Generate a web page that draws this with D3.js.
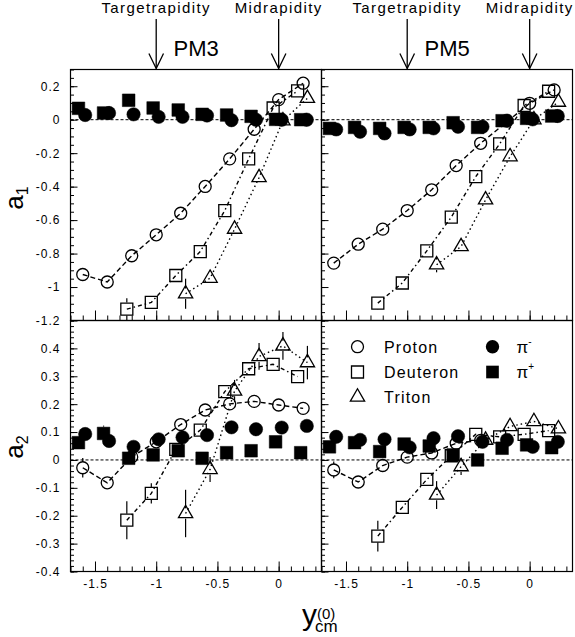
<!DOCTYPE html>
<html>
<head>
<meta charset="utf-8">
<script src="https://cdn.jsdelivr.net/npm/d3@7"></script>
<style>
body { margin: 0; background: #fff; }
text { font-family: "Liberation Sans", Arial, Helvetica, sans-serif; fill: #000; }
</style>
</head>
<body>
<div id="vis"></div>
<script>
// Frame and panel geometry
const FRAME_WIDTH = 575;
const FRAME_HEIGHT = 637;
const PANEL_W = 251;
const PANEL_H = 251;
const LEFT = 70.5;
const TOP = 69.5;

// Tick values
const X_MAJOR = [-1.5, -1, -0.5, 0];
const A1_MAJOR = [-1.2, -1, -0.8, -0.6, -0.4, -0.2, 0, 0.2];
const A2_MAJOR = [-0.4, -0.3, -0.2, -0.1, 0, 0.1, 0.2, 0.3, 0.4];

// Rapidity markers on top of the panels
const ARROW_X = [-1, 0];
const ARROW_TEXT = ["Targetrapidity", "Midrapidity"];
const PANEL_TITLES = ["PM3", "PM5"];

// Data: [y_cm, value, error]
const PM3_A1_PROTON = [[-1.6,-0.925],[-1.4,-0.97],[-1.2,-0.813],[-1.0,-0.688],[-0.8,-0.559],[-0.6,-0.399],[-0.4,-0.234],[-0.2,-0.057],[0.0,0.12],[0.2,0.218]];
const PM3_A1_DEUTERON = [[-1.24,-1.132,0.065],[-1.04,-1.092],[-0.84,-0.931],[-0.64,-0.788],[-0.44,-0.543],[-0.245,-0.234],[-0.045,0.07],[0.155,0.172]];
const PM3_A1_TRITON = [[-0.76,-1.04,0.09],[-0.56,-0.947],[-0.36,-0.654],[-0.16,-0.346],[0.035,-0.006],[0.235,0.128]];
const PM3_A1_PIMINUS = [[-1.58,0.028],[-1.385,0.04],[-1.185,0.032],[-0.98,0.017],[-0.785,0.017],[-0.585,0.025],[-0.385,-0.003],[-0.185,0.0],[0.025,0.0],[0.23,0.0]];
const PM3_A1_PIPLUS = [[-1.635,0.068],[-1.43,0.04],[-1.225,0.116],[-1.025,0.07],[-0.82,0.058],[-0.625,0.032],[-0.425,0.028],[-0.225,0.02],[-0.025,0.002],[0.18,0.0]];

const PM5_A1_PROTON = [[-1.6,-0.857],[-1.4,-0.744],[-1.2,-0.654],[-1.0,-0.543],[-0.8,-0.419],[-0.6,-0.274],[-0.4,-0.141],[0.0,0.098],[0.2,0.178]];
const PM5_A1_DEUTERON = [[-1.24,-1.096,0.04],[-1.04,-0.976],[-0.84,-0.784],[-0.64,-0.582],[-0.44,-0.34],[-0.245,-0.145],[-0.045,0.085],[0.155,0.17]];
const PM5_A1_TRITON = [[-0.76,-0.867,0.045],[-0.56,-0.758],[-0.36,-0.479],[-0.16,-0.221],[0.035,0.0],[0.235,0.105]];
const PM5_A1_PIMINUS = [[-1.58,-0.058],[-1.385,-0.072],[-1.185,-0.082],[-0.98,-0.058],[-0.785,-0.052],[-0.585,-0.042],[-0.385,-0.042],[-0.185,-0.006],[0.025,0.002],[0.23,0.022]];
const PM5_A1_PIPLUS = [[-1.635,-0.052],[-1.43,-0.046],[-1.225,-0.052],[-1.025,-0.046],[-0.82,-0.046],[-0.625,-0.018],[-0.425,-0.046],[-0.225,-0.006],[-0.025,0.008],[0.18,0.022]];

const PM3_A2_PROTON = [[-1.6,-0.028,0.035],[-1.4,-0.082],[-1.2,0.011],[-1.0,0.065],[-0.8,0.127],[-0.6,0.179],[-0.4,0.201],[-0.2,0.21],[0.0,0.197],[0.2,0.185]];
const PM3_A2_DEUTERON = [[-1.24,-0.216,0.068],[-1.04,-0.12,0.036],[-0.84,0.038],[-0.64,0.107],[-0.44,0.245],[-0.245,0.327],[-0.045,0.343],[0.155,0.299]];
const PM3_A2_TRITON = [[-0.76,-0.192,0.085],[-0.56,-0.034,0.045],[-0.36,0.247,0.04],[-0.16,0.371,0.048],[0.035,0.409,0.05],[0.235,0.349,0.06]];
const PM3_A2_PIMINUS = [[-1.58,0.093],[-1.385,0.068],[-1.185,0.047],[-0.98,0.074],[-0.785,0.081],[-0.585,0.089],[-0.385,0.117],[-0.185,0.11],[0.025,0.116],[0.23,0.122]];
const PM3_A2_PIPLUS = [[-1.635,0.062],[-1.43,0.095,0.028],[-1.225,0.006],[-1.025,0.018],[-0.82,0.033],[-0.625,0.006],[-0.425,0.026],[-0.225,0.033],[-0.025,0.065],[0.18,0.026]];

const PM5_A2_PROTON = [[-1.6,-0.036,0.03],[-1.4,-0.079],[-1.2,-0.02],[-1.0,0.01],[-0.8,0.025],[-0.6,0.06],[-0.4,0.07]];
const PM5_A2_DEUTERON = [[-1.24,-0.273,0.055],[-1.04,-0.17],[-0.84,-0.07],[-0.64,0.015],[-0.44,0.092],[-0.245,0.083],[-0.045,0.092],[0.155,0.105]];
const PM5_A2_TRITON = [[-0.76,-0.126,0.05],[-0.56,-0.024,0.03],[-0.36,0.071],[-0.16,0.12],[0.035,0.138],[0.235,0.112]];
const PM5_A2_PIMINUS = [[-1.58,0.083],[-1.385,0.072],[-1.185,0.074],[-0.98,0.045],[-0.785,0.078],[-0.585,0.085],[-0.385,0.065],[-0.185,0.072],[0.025,0.047],[0.23,0.065]];
const PM5_A2_PIPLUS = [[-1.635,0.047],[-1.43,0.062],[-1.225,0.03],[-1.025,0.057],[-0.82,0.05],[-0.625,0.018],[-0.425,0.0],[-0.225,0.042],[-0.025,0.054],[0.18,0.044]];

// Legend entries
const LEGEND_LEFT = ["Proton", "Deuteron", "Triton"];
const LEGEND_RIGHT = ["-", "+"];

// Scales
const X_SCALE = d3.scaleLinear().domain([-1.7, 0.35]).range([0, PANEL_W]);
const Y_A1 = d3.scaleLinear().domain([-1.2, 0.3]).range([PANEL_H, 0]);
const Y_A2 = d3.scaleLinear().domain([-0.4, 0.5]).range([PANEL_H, 0]);

// marker styles
const SYM = {
    proton:   {type: d3.symbolCircle,   size: 113, filled: false, dash: "5,3"},
    deuteron: {type: d3.symbolSquare,   size: 144, filled: false, dash: "4,3,1.5,3"},
    triton:   {type: d3.symbolTriangle, size: 88,  filled: false, dash: "1.5,3"},
    piMinus:  {type: d3.symbolCircle,   size: 140, filled: true},
    piPlus:   {type: d3.symbolSquare,   size: 160, filled: true}
};
const ORDER = ["proton", "deuteron", "triton", "piMinus", "piPlus"];

const PANELS = [
    {col: 0, row: 0, y: Y_A1, major: A1_MAJOR, minorStep: 30,
     series: {proton: PM3_A1_PROTON, deuteron: PM3_A1_DEUTERON, triton: PM3_A1_TRITON, piMinus: PM3_A1_PIMINUS, piPlus: PM3_A1_PIPLUS}},
    {col: 1, row: 0, y: Y_A1, major: A1_MAJOR, minorStep: 30,
     series: {proton: PM5_A1_PROTON, deuteron: PM5_A1_DEUTERON, triton: PM5_A1_TRITON, piMinus: PM5_A1_PIMINUS, piPlus: PM5_A1_PIPLUS}},
    {col: 0, row: 1, y: Y_A2, major: A2_MAJOR, minorStep: 45,
     series: {proton: PM3_A2_PROTON, deuteron: PM3_A2_DEUTERON, triton: PM3_A2_TRITON, piMinus: PM3_A2_PIMINUS, piPlus: PM3_A2_PIPLUS}},
    {col: 1, row: 1, y: Y_A2, major: A2_MAJOR, minorStep: 45,
     series: {proton: PM5_A2_PROTON, deuteron: PM5_A2_DEUTERON, triton: PM5_A2_TRITON, piMinus: PM5_A2_PIMINUS, piPlus: PM5_A2_PIPLUS}}
];

const FMT = (d) => String(+d.toFixed(2));
const FONT = "'Liberation Sans', Arial, Helvetica, sans-serif";

const FRAME = d3.select("#vis")
    .append("svg")
    .attr("width", FRAME_WIDTH)
    .attr("height", FRAME_HEIGHT);

function drawPanel(p) {
    const g = FRAME.append("g")
        .attr("transform", "translate(" + (LEFT + p.col * PANEL_W) + "," + (TOP + p.row * PANEL_H) + ")");
    const Y = p.y;

    // dashed zero line
    g.append("line")
        .attr("x1", 0).attr("x2", PANEL_W)
        .attr("y1", Y(0)).attr("y2", Y(0))
        .attr("stroke", "#000").attr("stroke-width", 1)
        .attr("stroke-dasharray", "3,2");

    // left axis ticks (inside the frame)
    g.append("g")
        .call(d3.axisLeft(Y).tickValues(Y.ticks(p.minorStep)).tickSize(-3.5).tickFormat(""))
        .call(a => a.select(".domain").remove());
    g.append("g")
        .call(d3.axisLeft(Y).tickValues(p.major).tickSize(-7).tickPadding(10)
            .tickFormat(p.col === 0 ? FMT : ""))
        .call(a => a.select(".domain").remove())
        .attr("font-family", FONT).attr("font-size", 12)
        .selectAll("text").attr("letter-spacing", 1).attr("fill", "#000");

    // bottom axis ticks (inside the frame)
    const xb = g.append("g").attr("transform", "translate(0," + PANEL_H + ")");
    xb.append("g")
        .call(d3.axisBottom(X_SCALE).tickValues(X_SCALE.ticks(20)).tickSize(-5).tickFormat(""))
        .call(a => a.select(".domain").remove());
    xb.append("g")
        .call(d3.axisBottom(X_SCALE).tickValues(X_MAJOR).tickSize(-10).tickPadding(8)
            .tickFormat(p.row === 1 ? FMT : ""))
        .call(a => a.select(".domain").remove())
        .attr("font-family", FONT).attr("font-size", 12)
        .selectAll("text").attr("letter-spacing", 1).attr("fill", "#000");

    // connecting lines for the fragments
    const line = d3.line().x(d => X_SCALE(d[0])).y(d => Y(d[1]));
    ["proton", "deuteron", "triton"].forEach(k => {
        g.append("path")
            .datum(p.series[k])
            .attr("d", line)
            .attr("fill", "none")
            .attr("stroke", "#000")
            .attr("stroke-width", 1.4)
            .attr("stroke-dasharray", SYM[k].dash);
    });

    // error bars and markers
    ORDER.forEach(k => {
        const s = SYM[k];
        const pts = p.series[k];
        const gap = Math.sqrt(s.size) / 2 + 0.5;
        pts.filter(d => d[2] && d[2] * Math.abs(Y(0) - Y(1)) > gap).forEach(d => {
            const cy = Y(d[1]), cx = X_SCALE(d[0]);
            g.append("line").attr("x1", cx).attr("x2", cx)
                .attr("y1", Y(d[1] + d[2])).attr("y2", cy - gap)
                .attr("stroke", "#000").attr("stroke-width", 1.2);
            g.append("line").attr("x1", cx).attr("x2", cx)
                .attr("y1", cy + gap).attr("y2", Y(d[1] - d[2]))
                .attr("stroke", "#000").attr("stroke-width", 1.2);
        });
        g.selectAll(null)
            .data(pts)
            .enter()
            .append("path")
            .attr("d", d3.symbol(s.type, s.size))
            .attr("transform", d => "translate(" + X_SCALE(d[0]) + "," + Y(d[1]) + ")")
            .attr("fill", s.filled ? "#000" : "none")
            .attr("stroke", "#000")
            .attr("stroke-width", s.filled ? 0.5 : 1.3);
    });

    // frame
    g.append("rect")
        .attr("width", PANEL_W).attr("height", PANEL_H)
        .attr("fill", "none").attr("stroke", "#000").attr("stroke-width", 1.2);
}

PANELS.forEach(drawPanel);

// arrows and rapidity labels above the top panels
[0, 1].forEach(col => {
    const x0 = LEFT + col * PANEL_W;
    ARROW_X.forEach((v, i) => {
        const ax = x0 + X_SCALE(v);
        FRAME.append("line")
            .attr("x1", ax).attr("x2", ax).attr("y1", 19).attr("y2", TOP - 1)
            .attr("stroke", "#000").attr("stroke-width", 1.3);
        FRAME.append("path")
            .attr("d", "M" + (ax - 7.3) + ",53.5L" + ax + "," + (TOP - 1) + "L" + (ax + 7.3) + ",53.5")
            .attr("fill", "none").attr("stroke", "#000").attr("stroke-width", 1.3);
        FRAME.append("text")
            .attr("x", ax).attr("y", 12.5)
            .attr("text-anchor", "middle")
            .attr("font-size", 15).attr("letter-spacing", 1.4)
            .text(ARROW_TEXT[i]);
    });
    FRAME.append("text")
        .attr("x", x0 + 103).attr("y", 56)
        .attr("font-size", 22)
        .text(PANEL_TITLES[col]);
});

// y axis titles
[["1", 198], ["2", 447]].forEach(([sub, cy]) => {
    const t = FRAME.append("text")
        .attr("transform", "translate(23," + cy + ") rotate(-90)")
        .attr("text-anchor", "middle")
        .attr("font-size", 26);
    t.append("tspan").text("a");
    t.append("tspan").attr("font-size", 16).attr("dy", 5).text(sub);
});

// x axis title: y with superscript (0) and subscript cm
const XT = FRAME.append("text").attr("x", 302).attr("y", 625).attr("font-size", 30);
XT.append("tspan").text("y");
XT.append("tspan").attr("font-size", 15).attr("dy", -6).text("(0)");
XT.append("tspan").attr("x", 315).attr("font-size", 17).attr("dy", 13).text("cm");

// legend in the lower right panel
const LEG_Y = [346.7, 372, 397];
LEGEND_LEFT.forEach((name, i) => {
    const s = SYM[ORDER[i]];
    FRAME.append("path")
        .attr("d", d3.symbol(s.type, s.size))
        .attr("transform", "translate(357.5," + LEG_Y[i] + ")")
        .attr("fill", "none").attr("stroke", "#000").attr("stroke-width", 1.3);
    FRAME.append("text")
        .attr("x", 384).attr("y", LEG_Y[i] + 6.3)
        .attr("font-size", 16).attr("letter-spacing", 1.2)
        .text(name);
});
LEGEND_RIGHT.forEach((sign, i) => {
    const s = SYM[ORDER[3 + i]];
    FRAME.append("path")
        .attr("d", d3.symbol(s.type, s.size))
        .attr("transform", "translate(492.5," + LEG_Y[i] + ")")
        .attr("fill", "#000");
    const t = FRAME.append("text")
        .attr("x", 516.5).attr("y", LEG_Y[i] + 6.3)
        .attr("font-family", "'Liberation Serif', 'DejaVu Serif', serif")
        .attr("font-size", 17);
    t.append("tspan").text("π");
    t.append("tspan").attr("font-size", 10).attr("dy", -8).text(sign);
});
</script>
</body>
</html>
